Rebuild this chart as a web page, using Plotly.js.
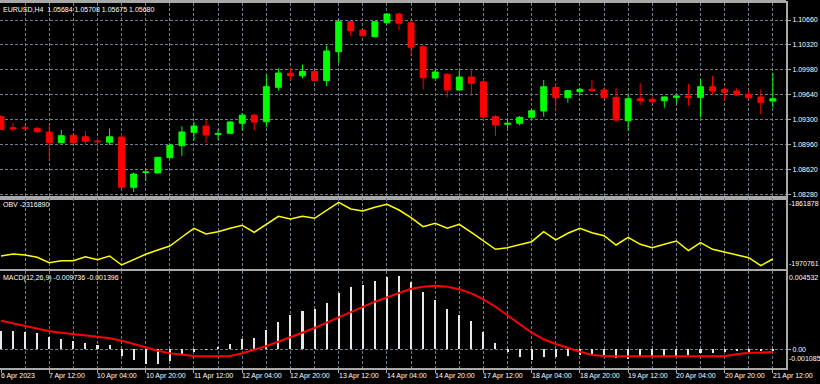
<!DOCTYPE html>
<html><head><meta charset="utf-8">
<script src="https://cdn.plot.ly/plotly-3.0.1.min.js"></script>
<style>html,body{margin:0;padding:0;background:#000;}#chart{width:820px;height:384px;}</style>
</head><body><div id="chart"></div>
<script>
// ---- data ----
const openP  = [1.09340,1.09189,1.09188,1.09181,1.09131,1.08984,1.09086,1.09066,1.09008,1.08990,1.09062,1.08375,1.08578,1.08571,1.08780,1.08944,1.09126,1.09212,1.09099,1.09113,1.09249,1.09360,1.09271,1.09741,1.09932,1.09898,1.09957,1.09834,1.10227,1.10637,1.10523,1.10432,1.10623,1.10742,1.10623,1.10295,1.09868,1.09918,1.09704,1.09882,1.09816,1.09339,1.09236,1.09249,1.09331,1.09417,1.09741,1.09599,1.09681,1.09714,1.09704,1.09604,1.09285,1.09585,1.09577,1.09558,1.09604,1.09622,1.09604,1.09749,1.09714,1.09690,1.09645,1.09609,1.09554];
const highP  = [1.09363,1.09253,1.09226,1.09203,1.09226,1.09158,1.09090,1.09144,1.09049,1.09178,1.09113,1.08578,1.08635,1.08793,1.08963,1.09208,1.09271,1.09294,1.09167,1.09281,1.09390,1.09379,1.09909,1.10000,1.10009,1.10052,1.09970,1.10309,1.10674,1.10646,1.10530,1.10640,1.10751,1.10760,1.10664,1.10316,1.09987,1.09932,1.09964,1.09998,1.09854,1.09363,1.09304,1.09349,1.09445,1.09841,1.09796,1.09704,1.09735,1.09841,1.09741,1.09727,1.09636,1.09796,1.09613,1.09613,1.09636,1.09786,1.09854,1.09895,1.09735,1.09727,1.09704,1.09714,1.09940];
const lowP   = [1.09158,1.09135,1.09148,1.09113,1.08758,1.08976,1.08974,1.08953,1.08898,1.08953,1.08362,1.08311,1.08457,1.08568,1.08778,1.08806,1.09015,1.08980,1.09028,1.09110,1.09151,1.09158,1.09195,1.09695,1.09841,1.09864,1.09827,1.09759,1.10077,1.10441,1.10441,1.10428,1.10605,1.10523,1.10182,1.09714,1.09854,1.09609,1.09700,1.09622,1.09294,1.09076,1.09181,1.09222,1.09304,1.09340,1.09431,1.09531,1.09636,1.09681,1.09596,1.09258,1.09148,1.09499,1.09513,1.09462,1.09522,1.09486,1.09331,1.09636,1.09558,1.09622,1.09577,1.09376,1.09468];
const closeP = [1.09167,1.09172,1.09181,1.09135,1.08984,1.09080,1.08984,1.09004,1.08998,1.09066,1.08375,1.08557,1.08584,1.08785,1.08949,1.09131,1.09212,1.09090,1.09107,1.09267,1.09360,1.09267,1.09749,1.09936,1.09899,1.09957,1.09834,1.10237,1.10637,1.10514,1.10446,1.10637,1.10742,1.10615,1.10287,1.09871,1.09950,1.09704,1.09882,1.09796,1.09335,1.09226,1.09249,1.09331,1.09421,1.09749,1.09599,1.09695,1.09714,1.09695,1.09599,1.09294,1.09585,1.09558,1.09544,1.09609,1.09622,1.09604,1.09749,1.09690,1.09673,1.09636,1.09599,1.09536,1.09585];
const obv = [-1954102,-1950668,-1952385,-1956335,-1965609,-1962174,-1962174,-1955305,-1960457,-1954102,-1969559,-1960457,-1951183,-1943798,-1936928,-1921472,-1906530,-1916320,-1912370,-1906530,-1901378,-1913400,-1899661,-1885922,-1890559,-1885922,-1889356,-1875102,-1861878,-1873385,-1876819,-1870465,-1865313,-1875102,-1888326,-1903783,-1897943,-1906530,-1899661,-1913400,-1927826,-1942596,-1939848,-1935211,-1929544,-1912370,-1926624,-1915117,-1906530,-1914087,-1919239,-1935211,-1921987,-1934009,-1939848,-1934009,-1928341,-1945000,-1931261,-1942596,-1947748,-1952385,-1957022,-1970761,-1959255];
const macdHist = [0.001091,0.001073,0.001015,0.000938,0.000721,0.000622,0.000504,0.000369,0.000252,0.000270,-0.000375,-0.000628,-0.000880,-0.000862,-0.000669,-0.000276,-0.000176,-0.000029,0.000117,0.000311,0.000587,0.000663,0.001132,0.001619,0.001994,0.002246,0.002364,0.002733,0.003320,0.003671,0.003771,0.004006,0.004258,0.004299,0.003965,0.003361,0.002891,0.002346,0.002012,0.001642,0.000997,0.000352,-0.000158,-0.000469,-0.000628,-0.000469,-0.000469,-0.000393,-0.000334,-0.000276,-0.000334,-0.000528,-0.000587,-0.000469,-0.000469,-0.000469,-0.000393,-0.000334,-0.000199,-0.000199,-0.000141,-0.000082,-0.000158,-0.000117,-0.000117];
const macdSignal = [0.001677,0.001525,0.001367,0.001208,0.001056,0.000974,0.000897,0.000856,0.000739,0.000645,0.000504,0.000311,0.000094,-0.000082,-0.000235,-0.000334,-0.000393,-0.000411,-0.000411,-0.000393,-0.000235,-0.000041,0.000194,0.000446,0.000704,0.000974,0.001249,0.001560,0.001877,0.002205,0.002498,0.002792,0.003050,0.003284,0.003554,0.003671,0.003730,0.003671,0.003519,0.003284,0.002933,0.002498,0.002012,0.001484,0.000974,0.000587,0.000311,0.000076,-0.000141,-0.000334,-0.000393,-0.000405,-0.000405,-0.000405,-0.000405,-0.000405,-0.000405,-0.000405,-0.000405,-0.000405,-0.000405,-0.000293,-0.000199,-0.000199,-0.000158];
const timeLabels = ['6 Apr 2023','7 Apr 12:00','10 Apr 04:00','10 Apr 20:00','11 Apr 12:00','12 Apr 04:00','12 Apr 20:00','13 Apr 12:00','14 Apr 04:00','14 Apr 20:00','17 Apr 12:00','18 Apr 04:00','18 Apr 20:00','19 Apr 12:00','20 Apr 04:00','20 Apr 20:00','21 Apr 12:00'];
const priceTicks = [1.08280,1.08620,1.08960,1.09300,1.09640,1.09980,1.10320,1.10660];
const obvScale = ['-1861878','-1970761'];
const macdScale = ['0.004532','0.00','-0.001085'];
const mainTitle = 'EURUSD,H4\u00a0 1.05684 1.05708 1.05675 1.05680';
const obvTitle = 'OBV -2316890';
const macdTitle = 'MACD(12,26,9) -0.009736 -0.001396';

// ---- build ----
const idx = openP.map((_, i) => i);
const labelIdx = timeLabels.map((_, k) => k * 4);
const minorIdx = idx.filter(i => i % 4 === 2);

const FONT = 'Liberation Sans, Arial, sans-serif';
const GRID = '#6f7d8c';
const FRAME = '#a8a8a8';
const XR = [-0.083, 65.09];
const TXT = {family:FONT, size:7, color:'#ffffff'};

const traces = [
  {type:'candlestick', x: idx, open: openP, high: highP, low: lowP, close: closeP,
   xaxis:'x', yaxis:'y', whiskerwidth:0, hoverinfo:'skip',
   increasing:{line:{color:'#00ff00', width:1}, fillcolor:'#00ff00'},
   decreasing:{line:{color:'#ff0000', width:1}, fillcolor:'#ff0000'}},
  {type:'scatter', mode:'lines', x: idx, y: obv, xaxis:'x2', yaxis:'y2',
   line:{color:'#ffff00', width:1.5}, hoverinfo:'skip'},
  {type:'bar', x: idx, y: macdHist, xaxis:'x3', yaxis:'y3', width:0.17,
   marker:{color:'#e6e6e6', line:{width:0}}, hoverinfo:'skip'},
  {type:'scatter', mode:'lines', x: idx, y: macdSignal, xaxis:'x3', yaxis:'y3',
   line:{color:'#ff0000', width:2}, hoverinfo:'skip'}
];

function xAx(anchor, withTicks) {
  return {
    anchor: anchor, range: XR, autorange:false, fixedrange:true,
    tickmode:'array', tickvals: labelIdx, showticklabels:false,
    ticks: withTicks ? 'outside' : '', ticklen:3, tickcolor: FRAME,
    showgrid:true, gridcolor: GRID, griddash:'3px,2px', gridwidth:1,
    minor:{tickmode:'array', tickvals: minorIdx, showgrid:true, gridcolor: GRID, griddash:'3px,2px', ticks:''},
    zeroline:false, showline:true, mirror:true, linecolor: FRAME, linewidth:2,
    rangeslider:{visible:false}
  };
}

const annotations = [
  {text: mainTitle, xref:'paper', yref:'y domain', x:0, y:1, xanchor:'left', yanchor:'top', xshift:1, yshift:-1, showarrow:false, font:TXT},
  {text: obvTitle, xref:'paper', yref:'y2 domain', x:0, y:1, xanchor:'left', yanchor:'top', xshift:1, yshift:-1, showarrow:false, font:TXT},
  {text: macdTitle, xref:'paper', yref:'y3 domain', x:0, y:1, xanchor:'left', yanchor:'top', xshift:1, yshift:-1, showarrow:false, font:TXT},
  {text: obvScale[0], xref:'paper', yref:'y2 domain', x:1, y:1, xanchor:'left', yanchor:'top', xshift:1, showarrow:false, font:TXT},
  {text: obvScale[1], xref:'paper', yref:'y2 domain', x:1, y:0, xanchor:'left', yanchor:'bottom', xshift:1, showarrow:false, font:TXT},
  {text: macdScale[0], xref:'paper', yref:'y3 domain', x:1, y:1, xanchor:'left', yanchor:'top', xshift:1, yshift:-1, showarrow:false, font:TXT},
  {text: macdScale[2], xref:'paper', yref:'y3 domain', x:1, y:0, xanchor:'left', yanchor:'bottom', xshift:1, yshift:4, showarrow:false, font:TXT}
];
timeLabels.forEach((t, k) => {
  annotations.push({text: t, xref:'x3', yref:'paper', x: labelIdx[k], y:0, xanchor:'left', yanchor:'top',
    xshift:-2, yshift:-2, showarrow:false, font:TXT});
});

const layout = {
  width:820, height:384, margin:{l:0, r:34, t:0, b:16, pad:0},
  paper_bgcolor:'#000000', plot_bgcolor:'#000000', showlegend:false,
  font:TXT,
  xaxis: xAx('y', false),
  xaxis2: Object.assign(xAx('y2', false), {matches:'x'}),
  xaxis3: Object.assign(xAx('y3', true), {matches:'x'}),
  yaxis: {domain:[0.4633, 0.9932], range:[1.08236, 1.10899], autorange:false, fixedrange:true, side:'right',
    tickmode:'array', tickvals: priceTicks, ticktext: priceTicks.map(v => v.toFixed(5)),
    ticks:'outside', ticklen:3, tickcolor: FRAME, tickfont:TXT,
    showgrid:true, gridcolor: GRID, griddash:'3px,2px', zeroline:false,
    showline:true, mirror:true, linecolor: FRAME, linewidth:2},
  yaxis2: {domain:[0.2677, 0.4606], range:[-1977287, -1855352], autorange:false, fixedrange:true, side:'right',
    showticklabels:false, ticks:'', showgrid:false, zeroline:false,
    showline:true, mirror:true, linecolor: FRAME, linewidth:2},
  yaxis3: {domain:[0, 0.2649], range:[-0.001097, 0.004622], autorange:false, fixedrange:true, side:'right',
    tickmode:'array', tickvals:[0], ticktext:[macdScale[1]],
    ticks:'outside', ticklen:3, tickcolor: FRAME, tickfont:TXT,
    showgrid:true, gridcolor: GRID, griddash:'3px,2px', zeroline:false,
    showline:true, mirror:true, linecolor: FRAME, linewidth:2},
  shapes: [
    {type:'rect', xref:'paper', yref:'paper', x0:0, x1:1, y0:0.9932, y1:1, fillcolor:FRAME, line:{width:0}, layer:'above'}
  ],
  bargap:0,
  annotations: annotations
};

Plotly.newPlot('chart', traces, layout, {staticPlot:true, displayModeBar:false});
</script>
</body></html>
